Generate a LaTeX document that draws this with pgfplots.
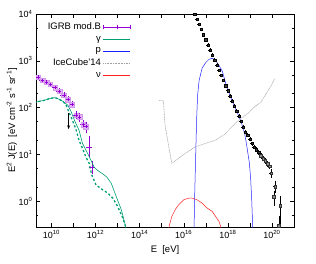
\documentclass[border=0pt]{standalone}
\usepackage{fontspec}
\setmainfont{Liberation Sans}
\usepackage{pgfplots}
\pgfplotsset{compat=1.18}
\usetikzlibrary{arrows.meta}
\definecolor{cv}{HTML}{9400D3}
\definecolor{cg}{HTML}{009E73}
\definecolor{cb}{HTML}{2020FF}
\definecolor{cr}{HTML}{FF2020}
\definecolor{ci}{HTML}{A0A0A0}
\begin{document}
\begin{tikzpicture}
\useasboundingbox (-36bp,-37bp) rectangle (280bp,227bp);
\begin{axis}[
  at={(0,0)}, anchor=south west,
  scale only axis, width=258bp, height=213bp,
  xmode=log, ymode=log,
  xmin=2e9, xmax=1e21, ymin=0.28, ymax=1e4,
  xtick={1e10,1e12,1e14,1e16,1e18,1e20},
  xticklabels={10\textsuperscript{10},10\textsuperscript{12},10\textsuperscript{14},10\textsuperscript{16},10\textsuperscript{18},10\textsuperscript{20}},
  extra x ticks={1e11,1e13,1e15,1e17,1e19},
  extra x tick labels={},
  ytick={1,10,100,1000,10000},
  yticklabels={10\textsuperscript{0},10\textsuperscript{1},10\textsuperscript{2},10\textsuperscript{3},10\textsuperscript{4}},
  minor ytick={0.5,2,5,20,50,200,500,2000,5000},
  minor xtick={},
  tick align=inside,
  major tick length=4bp, minor tick length=2bp,
  tick style={black, line width=0.4pt},
  axis line style={line width=0.6pt},
  tick label style={font=\fontsize{9}{10}\selectfont},
  label style={font=\fontsize{9.5}{11}\selectfont},
  xlabel={E~~[eV]},
  ylabel={E\textsuperscript{2} J(E)~~[eV cm\textsuperscript{-2} s\textsuperscript{-1} sr\textsuperscript{-1}]},
  xlabel style={at={(axis description cs:0.5,-0.108)}, anchor=center},
  ylabel style={at={(axis description cs:-0.093,0.5)}, anchor=center},
  legend style={draw=none, fill=none, at={(axis description cs:0.368,0.968)}, anchor=north east,
    font=\fontsize{9.5}{11}\selectfont, inner sep=0pt, row sep=0.9pt},
  legend plot pos=right, legend cell align=right,
]
% IGRB systematic boxes
\addplot[only marks, mark=square*, mark size=2.3pt, mark options={fill=cv!30, draw=cv!40}, forget plot]
  coordinates {(2.51e9,448) (3.98e9,381) (6.03e9,351) (8.91e9,313) (1.48e10,267) (2.34e10,222)
  (3.63e10,183) (5.62e10,148) (8.51e10,116) (1.32e11,69) (1.86e11,63) (2.82e11,43) (3.63e11,39)};
% IGRB
\addplot[cv, only marks, mark=+, mark size=1.8pt, line width=0.5pt,
  legend image code/.code={\draw[cv, line width=0.6pt] (0bp,0bp)--(27bp,0bp) (0bp,-2bp)--(0bp,2bp) (27bp,-2bp)--(27bp,2bp) (13.5bp,-2bp)--(13.5bp,2bp);},
  error bars/.cd, x dir=both, x explicit relative, y dir=both, y explicit relative,
  error bar style={cv, line width=0.5pt}, error mark options={cv, mark size=1.5pt, line width=0.5pt}]
  table[x=E, y=F, x error plus=ex, x error minus=ex, y error plus=ep, y error minus=em] {
E F ex ep em
2.51e9 448 0.18 0.05 0.05
3.98e9 381 0.18 0.05 0.05
6.03e9 351 0.18 0.05 0.05
8.91e9 313 0.18 0.06 0.06
1.48e10 267 0.18 0.06 0.06
2.34e10 222 0.18 0.07 0.07
3.63e10 183 0.18 0.08 0.08
5.62e10 148 0.18 0.09 0.09
8.51e10 116 0.18 0.10 0.10
1.32e11 69 0.18 0.12 0.12
1.86e11 63 0.18 0.14 0.14
2.82e11 43 0.18 0.17 0.17
3.63e11 39 0.18 0.20 0.20
5.13e11 14.1 0.15 0.63 0.37
6.76e11 5.4 0.15 0.26 0.26
};
\addlegendentry{IGRB mod.B}
% gamma solid
\addplot[cg, line width=0.6pt, legend image code/.code={\draw[cg, line width=0.8pt] (0bp,0bp)--(27bp,0bp);}] coordinates {
(1.66e9,127.6) (2.82e9,136.1) (4.79e9,142.9) (8.13e9,155.2) (1.38e10,163.3) (1.95e10,155.2)
(3.31e10,136.1) (5.62e10,111.9) (7.94e10,80.5) (1.15e11,51.2) (1.78e11,32.9) (2.57e11,17.1)
(4.37e11,10.5) (6.17e11,7.57) (8.71e11,5.25) (1.48e12,4.27) (2.19e12,3.80) (3.31e12,3.24)
(5.13e12,2.42) (8.71e12,1.25) (1.48e13,0.653) (2.34e13,0.284) (2.82e13,0.15)};
\addlegendentry{γ}
% protons
\addplot[cb, line width=0.5pt, legend image code/.code={\draw[cb, line width=0.8pt] (0bp,0bp)--(27bp,0bp);}] coordinates {
(2.84e16,0.1) (3.10e16,1.07) (3.44e16,7.57) (3.83e16,53.7) (4.25e16,183) (4.98e16,381)
(6.84e16,700) (9.68e16,900) (1.39e17,1070) (1.97e17,1135) (2.79e17,1014) (3.99e17,794)
(5.65e17,592) (8.91e17,275) (1.58e18,138) (2.82e18,74) (3.98e18,50) (5.75e18,28.2)
(7.13e18,15.8) (9.48e18,6.53) (1.09e19,2.84) (1.21e19,1.07) (1.34e19,0.284) (1.41e19,0.1)};
\addlegendentry{p}
% IceCube'14
\addplot[ci, line width=0.5pt, dash pattern=on 1pt off 0.6pt, legend image code/.code={\draw[ci, line width=0.6pt, dash pattern=on 1pt off 0.6pt] (0bp,0bp)--(27bp,0bp);}] coordinates {
(7.52e14,142.9) (1.20e15,138) (1.42e15,42.0) (2.03e15,15.8) (2.88e15,6.44) (5.83e15,8.22)
(1.17e16,10.5) (3.37e16,14.5) (9.68e16,17.1) (2.79e17,20.1) (8.02e17,28.0) (1.95e18,44.2)
(3.91e18,58.3) (7.93e18,74.5) (1.61e19,103) (3.23e19,131.5) (5.48e19,198.6) (9.29e19,297.8)
(1.33e20,414)};
\addlegendentry{IceCube'14}
% neutrinos
\addplot[cr, line width=0.5pt, legend image code/.code={\draw[cr, line width=0.8pt] (0bp,0bp)--(27bp,0bp);}] coordinates {
(2.0e15,0.19) (2.16e15,0.288) (2.88e15,0.47) (4.07e15,0.653) (5.83e15,0.834) (9.89e15,1.067)
(1.68e16,1.159) (2.38e16,1.159) (4.04e16,1.067) (6.84e16,0.906) (1.16e17,0.71) (1.97e17,0.601)
(2.79e17,0.47) (3.99e17,0.368) (4.72e17,0.288) (5.13e17,0.19)};
\addlegendentry{ν}
% gamma dashed
\addplot[cg, line width=1.3pt, dash pattern=on 2.2pt off 2.2pt, forget plot] coordinates {
(1.66e9,127.6) (2.82e9,136.1) (4.79e9,142.9) (8.13e9,155.2) (1.38e10,163.3) (1.95e10,155.2)
(3.31e10,136.1) (4.57e10,115) (6.17e10,80.5) (8.91e10,53.7) (1.26e11,35.7) (1.78e11,20.1)
(2.57e11,13.4) (3.63e11,8.89) (5.13e11,6.44) (6.76e11,3.63) (1.05e12,2.22) (2.14e12,1.74)
(3.63e12,1.48) (6.03e12,1.16) (1.02e13,0.767) (1.62e13,0.470) (2.29e13,0.288) (2.63e13,0.15)};
% UHECR data (main)
\addplot[black, only marks, mark=square*, mark size=1.1pt, mark options={fill=black!75, draw=black, line width=0.4pt}, forget plot,
  error bars/.cd, x dir=both, x explicit relative, y dir=both, y explicit relative,
  error bar style={black, line width=0.5pt}, error mark options={black, mark size=1pt, line width=0.5pt}]
  table[x=E, y=F, x error plus=ex, x error minus=ex, y error plus=ep, y error minus=em] {
E F ex ep em
3.16e16 9886 0.08 0.04 0.04
3.98e16 7690 0.08 0.04 0.04
5.01e16 5984 0.08 0.04 0.04
6.31e16 4656 0.08 0.04 0.04
7.94e16 3622 0.08 0.04 0.04
1.00e17 2812 0.08 0.04 0.04
1.26e17 2188 0.08 0.04 0.04
1.58e17 1702 0.08 0.04 0.04
2.00e17 1327 0.08 0.04 0.04
2.51e17 1033 0.08 0.04 0.04
3.16e17 803 0.08 0.04 0.04
3.98e17 625 0.08 0.04 0.04
5.01e17 486 0.08 0.04 0.04
6.31e17 378 0.08 0.04 0.04
7.94e17 294 0.08 0.04 0.04
1.00e18 229 0.08 0.04 0.04
1.26e18 178 0.08 0.04 0.04
1.58e18 139 0.08 0.04 0.04
2.00e18 108 0.08 0.04 0.04
2.51e18 83.8 0.08 0.04 0.04
3.16e18 65.3 0.08 0.04 0.04
3.98e18 50.7 0.08 0.04 0.04
5.01e18 38.0 0.08 0.05 0.05
6.31e18 30.2 0.08 0.05 0.05
7.94e18 25.7 0.08 0.05 0.05
1.00e19 20.9 0.08 0.05 0.05
1.26e19 17.0 0.08 0.05 0.05
1.58e19 14.5 0.08 0.06 0.06
2.00e19 12.6 0.08 0.06 0.06
2.51e19 10.96 0.08 0.07 0.07
};
% UHECR data (highest energies)
\addplot[black, only marks, mark=square*, mark size=1.3pt, mark options={fill=black!45, draw=black!80, line width=0.4pt}, forget plot,
  error bars/.cd, x dir=both, x explicit relative, y dir=both, y explicit relative,
  error bar style={black, line width=0.5pt}, error mark options={black, mark size=1pt, line width=0.5pt}]
  table[x=E, y=F, x error plus=ex, x error minus=ex, y error plus=ep, y error minus=em] {
E F ex ep em
3.16e19 9.33 0.08 0.08 0.08
3.98e19 8.13 0.08 0.08 0.08
5.01e19 7.24 0.08 0.09 0.09
6.31e19 6.31 0.08 0.10 0.10
7.94e19 5.62 0.08 0.10 0.10
9.33e19 3.98 0.08 0.16 0.16
1.23e20 1.25 0.08 0.28 0.33
1.41e20 2.05 0.08 0.27 0.22
2.04e20 0.298 0.08 0.57 0.66
2.40e20 0.79 0.08 0.58 0.63
};
% arrow (upper limit)
\addplot[black, line width=0.6pt, -{Stealth[length=4pt,width=3pt]}, forget plot] coordinates {(6.03e10,75.3) (6.03e10,34.5)};
\end{axis}
\end{tikzpicture}
\end{document}
